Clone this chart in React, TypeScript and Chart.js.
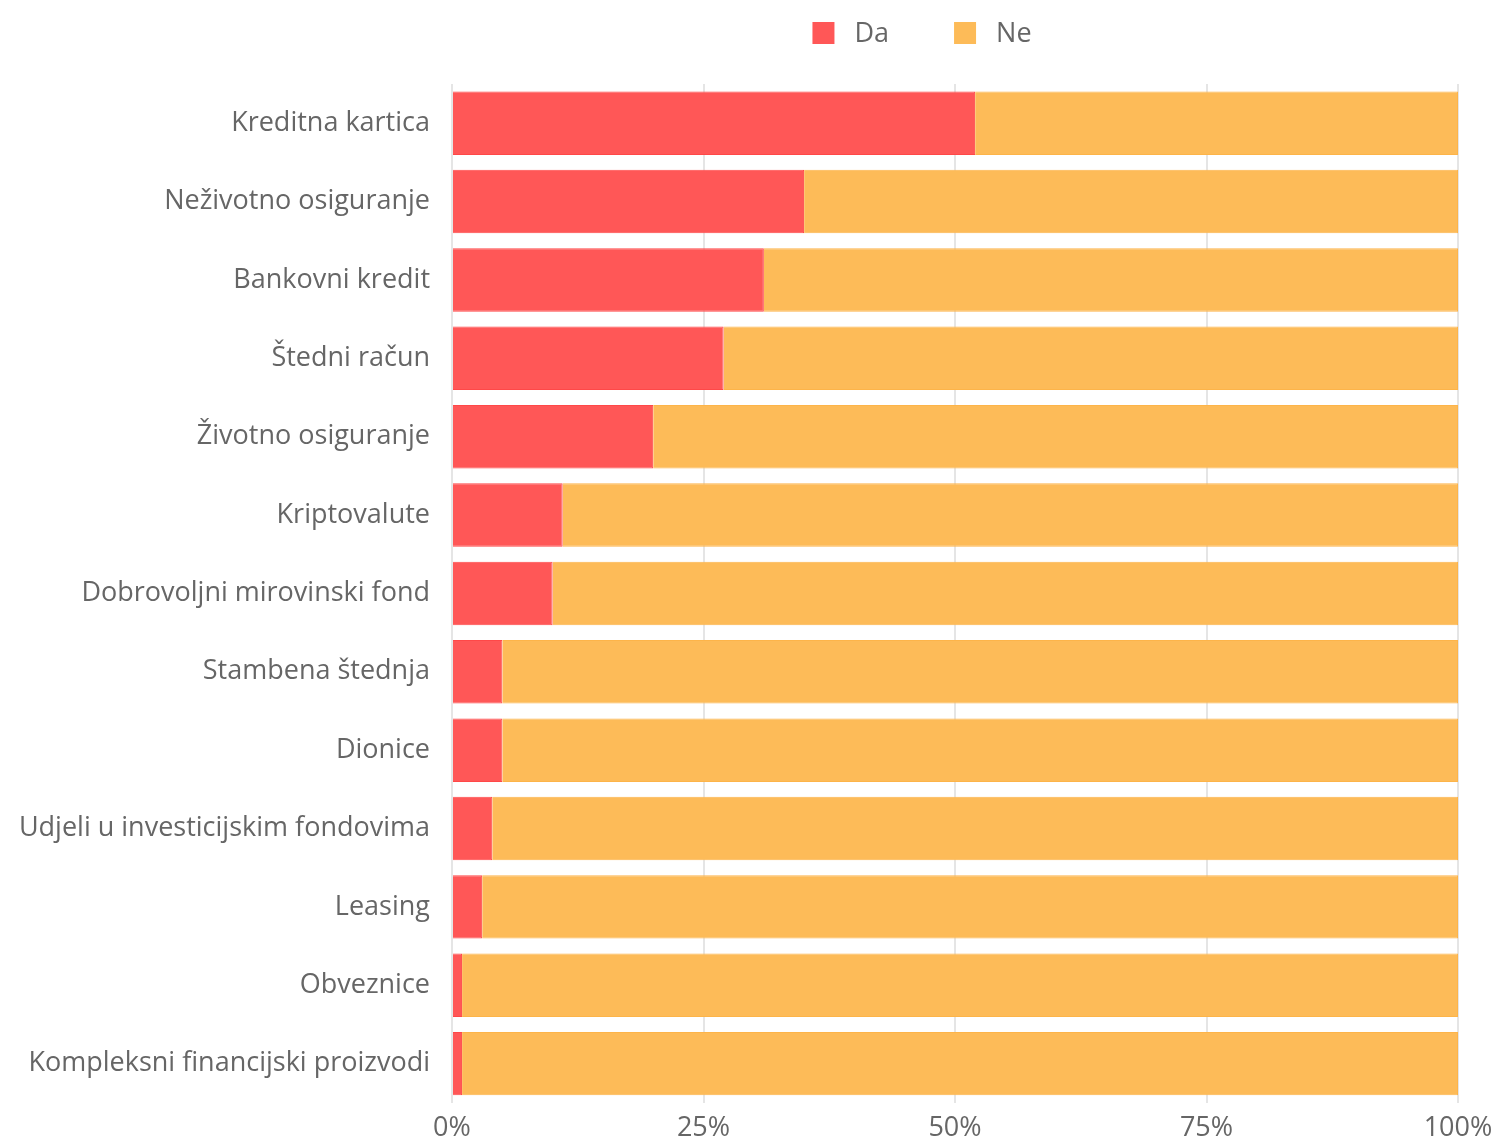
import React, { useEffect, useRef } from "react";
import { Chart, registerables } from "chart.js";

Chart.register(...registerables);

const categories = [
  "Kreditna kartica",
  "Neživotno osiguranje",
  "Bankovni kredit",
  "Štedni račun",
  "Životno osiguranje",
  "Kriptovalute",
  "Dobrovoljni mirovinski fond",
  "Stambena štednja",
  "Dionice",
  "Udjeli u investicijskim fondovima",
  "Leasing",
  "Obveznice",
  "Kompleksni financijski proizvodi",
];

const daValues = [52, 35, 31, 27, 20, 11, 10, 5, 5, 4, 3, 1, 1];
const neValues = [48, 65, 69, 73, 80, 89, 90, 95, 95, 96, 97, 99, 99];
const seriesLabels = ["Da", "Ne"];
const xTicks = [0, 25, 50, 75, 100];

const RED = "#FF5757";
const RED_BORDER = "#FF4848";
const ORANGE = "#FDBB58";
const ORANGE_BORDER = "#FDB449";
const FONT = "'Open Sans', sans-serif";
const TEXT = "#666666";
const FONT_SIZE = 27;

const legendPlugin = {
  id: "customLegend",
  afterDraw(chart: any) {
    const ctx = chart.ctx;
    const box = 22;
    const gap = 20;
    const spacing = 65;
    ctx.save();
    ctx.font = `${FONT_SIZE}px ${FONT}`;
    const items = chart.data.datasets.map((d: any) => ({
      text: d.label,
      color: d.backgroundColor,
      w: box + gap + ctx.measureText(d.label).width,
    }));
    const total = items.reduce((a: number, it: any) => a + it.w, 0) + spacing * (items.length - 1);
    let x = 922 - total / 2;
    const cy = 33;
    ctx.textBaseline = "middle";
    ctx.textAlign = "left";
    items.forEach((it: any) => {
      ctx.fillStyle = it.color;
      ctx.fillRect(x, cy - box / 2, box, box);
      ctx.fillStyle = TEXT;
      ctx.fillText(it.text, x + box + gap, cy + 1);
      x += it.w + spacing;
    });
    ctx.restore();
  },
};

export default function App() {
  const canvasRef = useRef<HTMLCanvasElement | null>(null);

  useEffect(() => {
    if (!canvasRef.current) return;
    const chart = new Chart(canvasRef.current, {
      type: "bar",
      data: {
        labels: categories,
        datasets: [
          {
            label: seriesLabels[0],
            data: daValues,
            backgroundColor: RED,
            borderColor: RED_BORDER,
            borderWidth: 1,
            categoryPercentage: 0.81,
            barPercentage: 1,
          },
          {
            label: seriesLabels[1],
            data: neValues,
            backgroundColor: ORANGE,
            borderColor: ORANGE_BORDER,
            borderWidth: 1,
            categoryPercentage: 0.81,
            barPercentage: 1,
          },
        ],
      },
      options: {
        indexAxis: "y",
        animation: false,
        responsive: true,
        maintainAspectRatio: false,
        layout: { padding: { top: 84, right: 44, left: 0, bottom: 0 } },
        plugins: {
          legend: { display: false },
          tooltip: { enabled: false },
        },
        scales: {
          x: {
            stacked: true,
            min: 0,
            max: 100,
            afterBuildTicks: (scale: any) => {
              scale.ticks = xTicks.map((v) => ({ value: v }));
            },
            afterFit: (scale: any) => {
              scale.height = 36;
            },
            ticks: {
              callback: (v: any) => `${v}%`,
              color: TEXT,
              font: { family: FONT, size: FONT_SIZE },
              padding: 9,
              maxRotation: 0,
            },
            grid: {
              color: "rgba(0,0,0,0.1)",
              lineWidth: 2,
              drawTicks: false,
            },
            border: { display: false },
          },
          y: {
            stacked: true,
            afterFit: (scale: any) => {
              scale.width = 452;
            },
            ticks: {
              color: TEXT,
              font: { family: FONT, size: FONT_SIZE },
              padding: 22,
            },
            grid: { display: false, drawTicks: false },
            border: { display: false },
          },
        },
      },
      plugins: [legendPlugin],
    });
    return () => chart.destroy();
  }, []);

  return (
    <div style={{ position: "absolute", left: 0, top: 0, width: 1502, height: 1141, background: "#fff" }}>
      <canvas ref={canvasRef} />
    </div>
  );
}
